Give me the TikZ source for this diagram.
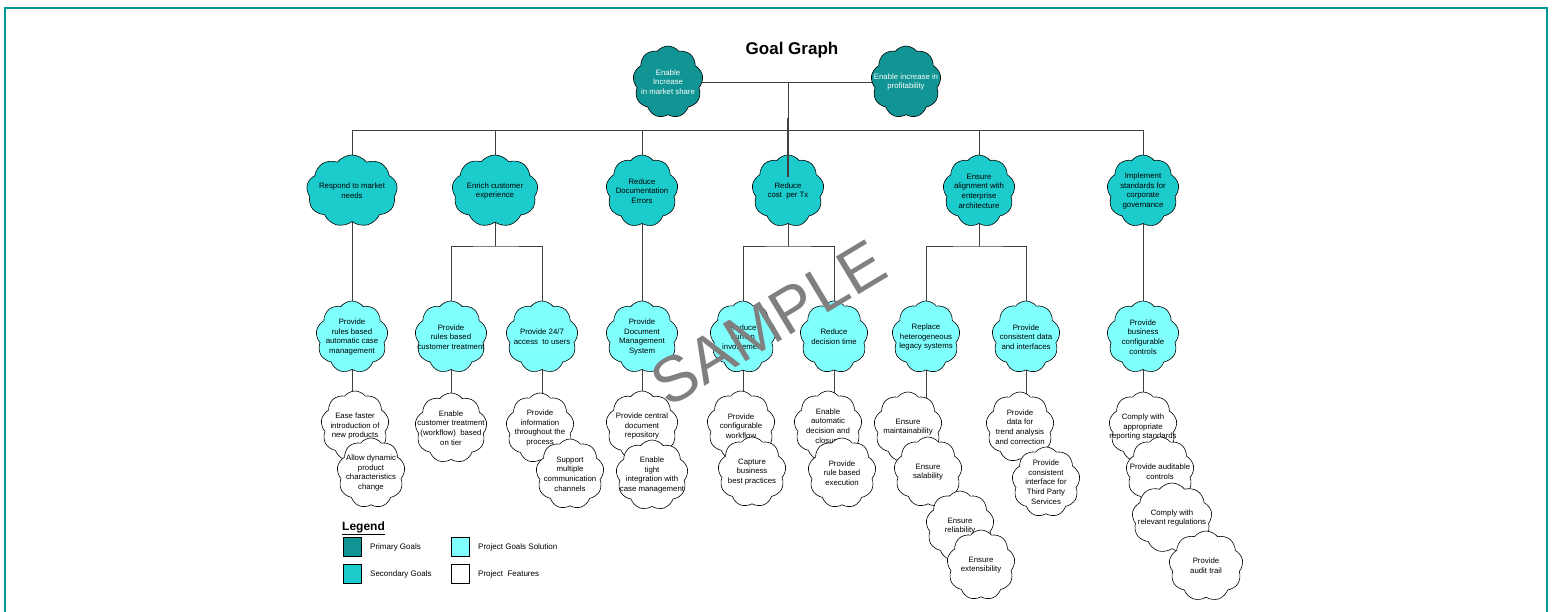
\documentclass[tikz,border=0pt]{standalone}
\usepackage{fontspec}
\setmainfont{Liberation Sans}
\usetikzlibrary{shapes.symbols,backgrounds}
\definecolor{primegoal}{RGB}{16,148,148}
\definecolor{secgoal}{RGB}{28,204,204}
\definecolor{solgoal}{RGB}{128,255,255}
\definecolor{framecol}{RGB}{0,153,153}
\definecolor{stampgray}{RGB}{128,128,128}

\begin{document}
\begin{tikzpicture}[x=1pt,y=-1pt]
    \tikzstyle{goal}=[cloud, cloud puffs=9, cloud puff arc=105, cloud ignores aspect, draw=black, line width=0.6pt, inner sep=0pt, minimum width=72pt, minimum height=72pt]
    \tikzstyle{primary}=[goal, fill=primegoal, minimum width=70pt]
    \tikzstyle{secondary}=[goal, fill=secgoal]
    \tikzstyle{solution}=[goal, fill=solgoal]
    \tikzstyle{feature}=[goal, fill=white, minimum width=68pt, minimum height=70pt]
    \tikzstyle{gtext}=[font=\fontsize{7.8}{9.7}\selectfont, align=center, inner sep=0pt]
    \tikzstyle{link}=[draw=black!75, line width=0.7pt]
    \tikzstyle{legbox}=[draw=black, line width=0.5pt, minimum width=18pt, minimum height=19pt, inner sep=0pt]
    \tikzstyle{legtext}=[font=\fontsize{8}{9}\selectfont, anchor=west, inner sep=0pt]
    \useasboundingbox (0,0) rectangle (1552,612);
    \draw[framecol, line width=2pt] (5,612) -- (5,8) -- (1547,8) -- (1547,612);
    \node[font=\bfseries\fontsize{17}{17}\selectfont] (title) at (792,50) {Goal Graph};

    % primary goals
    \node[primary, label={[gtext,white]center:Enable\\Increase\\in market share}] (pm) at (668,82) {};
    \node[primary, label={[gtext,white]center:Enable increase in\\profitability}] (pp) at (906,82) {};

    % secondary goals
    \node[secondary, minimum width=91pt, label={[gtext]center:Respond to market\\needs}] (s1) at (352,191) {};
    \node[secondary, minimum width=86pt, label={[gtext]center:Enrich customer\\experience}] (s2) at (495,191) {};
    \node[secondary, label={[gtext]center:Reduce\\Documentation\\Errors}] (s3) at (642,191) {};
    \node[secondary, label={[gtext]center:Reduce\\cost~ per Tx}] (s4) at (788,191) {};
    \node[secondary, label={[gtext]center:Ensure\\alignment with\\enterprise\\architecture}] (s5) at (979,191) {};
    \node[secondary, label={[gtext]center:Implement\\standards for\\corporate\\governance}] (s6) at (1143,191) {};

    % project goals solution
    \node[solution, label={[gtext]center:Provide\\rules based\\automatic case\\management}] (g1) at (352,337) {};
    \node[solution, label={[gtext]center:Provide\\rules based\\customer treatment}] (g2a) at (451,337) {};
    \node[solution, label={[gtext]center:Provide 24/7\\access~ to users}] (g2b) at (542,337) {};
    \node[solution, label={[gtext]center:Provide\\Document\\Management\\System}] (g3) at (642,337) {};
    \node[solution, minimum width=66pt, label={[gtext]center:Reduce\\human\\involvement}] (g4a) at (743,337) {};
    \node[solution, minimum width=68pt, label={[gtext]center:Reduce\\decision time}] (g4b) at (834,337) {};
    \node[solution, minimum width=68pt, label={[gtext]center:Replace\\heterogeneous\\legacy systems}] (g5a) at (926,337) {};
    \node[solution, minimum width=68pt, label={[gtext]center:Provide\\consistent data\\and interfaces}] (g5b) at (1026,337) {};
    \node[solution, label={[gtext]center:Provide\\business\\configurable\\controls}] (g6) at (1143,337) {};

    % project features
    \node[feature, label={[gtext]center:Ease faster\\introduction of\\new products}] (f1a) at (355,426) {};
    \node[feature, label={[gtext]center:Allow dynamic\\product\\characteristics\\change}] (f1b) at (371,473) {};
    \node[feature, minimum width=72pt, label={[gtext]center:Enable\\customer treatment\\(workflow)~ based\\on tier}] (f2a) at (451,428) {};
    \node[feature, label={[gtext]center:Provide\\information\\throughout the\\process}] (f2b) at (540,428) {};
    \node[feature, label={[gtext]center:Support\\multiple\\communication\\channels}] (f2c) at (570,474) {};
    \node[feature, minimum width=72pt, label={[gtext]center:Provide central\\document\\repository}] (f3a) at (642,426) {};
    \node[feature, minimum width=72pt, label={[gtext]center:Enable\\tight\\integration with\\case management}] (f3b) at (652,475) {};
    \node[feature, label={[gtext]center:Provide\\configurable\\workflow}] (f4a) at (741,426) {};
    \node[feature, label={[gtext]center:Capture\\business\\best practices}] (f4b) at (752,472) {};
    \node[feature, label={[gtext]center:Enable\\automatic\\decision and\\closure}] (f4c) at (828,426) {};
    \node[feature, label={[gtext]center:Provide\\rule based\\execution}] (f4d) at (842,473) {};
    \node[feature, label={[gtext]center:Ensure\\maintainability}] (f5a) at (908,427) {};
    \node[feature, label={[gtext]center:Ensure\\salability}] (f5b) at (928,472) {};
    \node[feature, label={[gtext]center:Ensure\\reliability}] (f5c) at (960,526) {};
    \node[feature, label={[gtext]center:Ensure\\extensibility}] (f5d) at (981,565) {};
    \node[feature, label={[gtext]center:Provide\\data for\\trend analysis\\and correction}] (f5e) at (1020,427) {};
    \node[feature, label={[gtext]center:Provide\\consistent\\interface for\\Third Party\\Services}] (f5f) at (1046,482) {};
    \node[feature, label={[gtext]center:Comply with\\appropriate\\reporting standards}] (f6a) at (1143,427) {};
    \node[feature, label={[gtext]center:Provide auditable\\controls}] (f6b) at (1160,472) {};
    \node[feature, minimum width=80pt, label={[gtext]center:Comply with\\relevant regulations}] (f6c) at (1172,518) {};
    \node[feature, minimum width=74pt, label={[gtext]center:Provide\\audit trail}] (f6d) at (1206,566) {};

    % connectors
    \coordinate (bus) at (0,130);
    \coordinate (fork) at (0,246);
    \begin{scope}[on background layer]
      \draw[link] (pm.center) -- (pp.center);
      \draw[link] (s4 |- pm) -- (s4 |- bus);
      \draw[link] (s1 |- bus) -- (s6 |- bus);
      \foreach \n in {s1,s2,s3,s4,s5,s6}
        \draw[link] (\n.center) -- (\n |- bus);
      \draw[link] (s1.center) -- (g1.center);
      \draw[link] (s3.center) -- (g3.center);
      \draw[link] (s6.center) -- (g6.center);
      \draw[link] (s2.center) -- (s2 |- fork) (g2a.center) |- (fork -| s2) -| (g2b.center);
      \draw[link] (s4.center) -- (s4 |- fork) (g4a.center) |- (fork -| s4) -| (g4b.center);
      \draw[link] (s5.center) -- (s5 |- fork) (g5a.center) |- (fork -| s5) -| (g5b.center);
      \foreach \a/\b in {g1/f1a,g2a/f2a,g2b/f2b,g3/f3a,g4a/f4a,g4b/f4c,g5a/f5a,g5b/f5e,g6/f6a}
        \draw[link] (\a.center) -- (\a |- \b);
    \end{scope}
    \coordinate (cutin) at (788,177);
    \draw[link, line width=1.4pt] (s4 |- 0,118) -- (cutin);

    % legend
    \node[font=\bfseries\fontsize{12}{12}\selectfont, anchor=west, inner sep=0pt] (legend) at (342,528) {\underline{Legend}};
    \node[legbox, fill=primegoal] (lp) at (352,547) {};
    \node[legbox, fill=secgoal] (ls) at (352,574) {};
    \node[legbox, fill=solgoal] (lg) at (460,547) {};
    \node[legbox, fill=white] (lf) at (460,574) {};
    \node[legtext] (lpt) at (370,547) {Primary Goals};
    \node[legtext] (lst) at (370,574) {Secondary Goals};
    \node[legtext] (lgt) at (478,547) {Project Goals Solution};
    \node[legtext] (lft) at (478,574) {Project~ Features};

    \node[font=\fontsize{64}{64}\selectfont, text=stampgray, rotate=31] (stamp) at (768,323) {SAMPLE};
\end{tikzpicture}
\end{document}
